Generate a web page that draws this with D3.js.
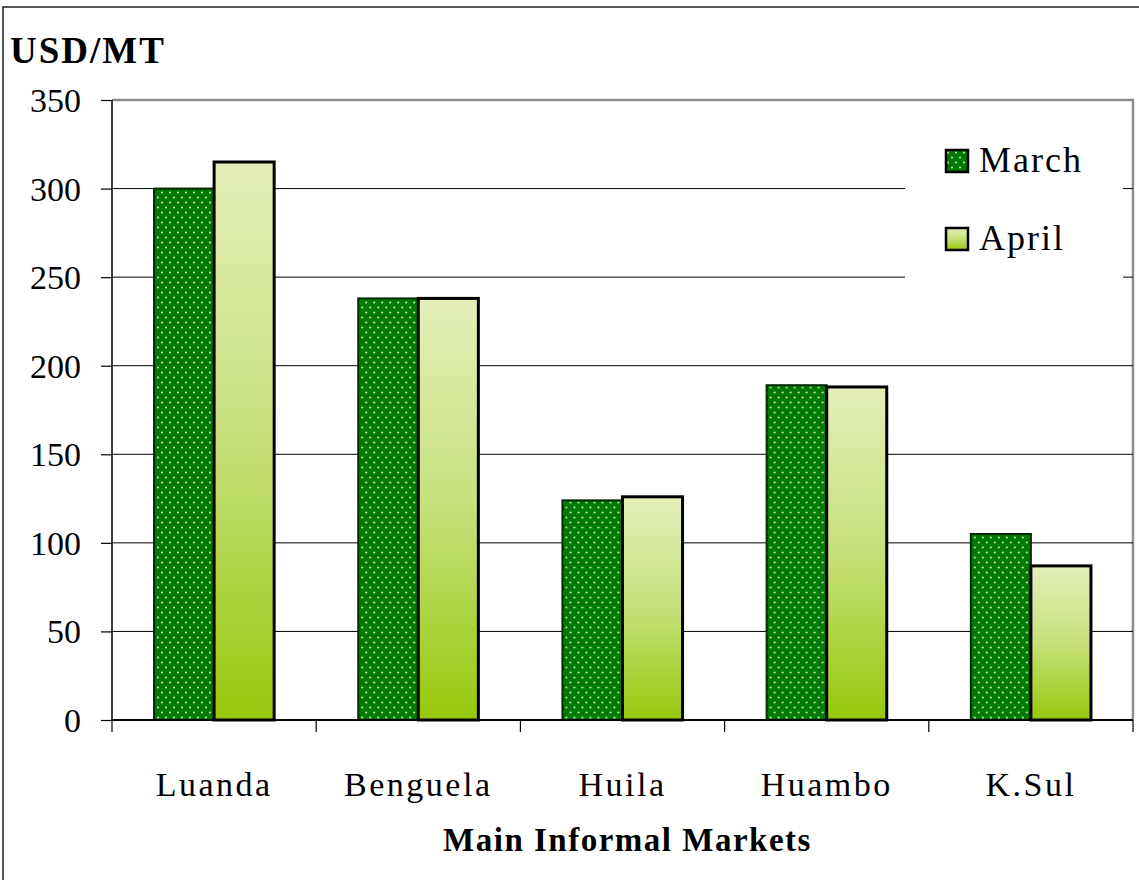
<!DOCTYPE html>
<html>
<head>
<meta charset="utf-8">
<script src="https://cdn.jsdelivr.net/npm/d3@7"></script>
<style>
  body { margin: 0; background: #fff; }
  text { font-family: "Liberation Serif", "Times New Roman", serif; fill: #000; }
</style>
</head>
<body>
<svg id="chart" width="1139" height="880"></svg>
<script>
// datos
const markets = ["Luanda", "Benguela", "Huila", "Huambo", "K.Sul"];
const seriesNames = ["March", "April"];
const march = [300, 238, 124, 189, 105];
const april = [315, 238, 126, 188, 87];
const yTicks = [0, 50, 100, 150, 200, 250, 300, 350];

const svg = d3.select("#chart");
const margin = { left: 112, top: 100, right: 1133, bottom: 720 };
const serif = "'Liberation Serif', 'Times New Roman', serif";

// marco exterior
svg.append("rect")
  .attr("x", 3).attr("y", 7)
  .attr("width", 1160).attr("height", 900)
  .attr("fill", "none").attr("stroke", "#222").attr("stroke-width", 1.5);

// patrones y degradados
const defs = svg.append("defs");
const pat = defs.append("pattern")
  .attr("id", "dots").attr("patternUnits", "userSpaceOnUse")
  .attr("width", 8).attr("height", 10);
pat.append("rect").attr("width", 8).attr("height", 10).attr("fill", "#007a00");
pat.append("circle").attr("cx", 2).attr("cy", 2.5).attr("r", 1).attr("fill", "#d8ecd8");
pat.append("circle").attr("cx", 6).attr("cy", 7.5).attr("r", 1).attr("fill", "#d8ecd8");

const grad = defs.append("linearGradient")
  .attr("id", "aprilGrad").attr("x1", 0).attr("y1", 0).attr("x2", 0).attr("y2", 1);
grad.append("stop").attr("offset", "0%").attr("stop-color", "#e4efb9");
grad.append("stop").attr("offset", "50%").attr("stop-color", "#c6e07a");
grad.append("stop").attr("offset", "100%").attr("stop-color", "#97c80c");

// escalas
const x = d3.scaleBand().domain(markets).range([margin.left, margin.right]);
const xSub = d3.scaleBand().domain(seriesNames)
  .range([0, x.bandwidth()]).paddingOuter(0.7).paddingInner(0);
const y = d3.scaleLinear().domain([0, 350]).range([margin.bottom, margin.top]);

// borde del área de trazado (gris)
svg.append("path")
  .attr("d", `M${margin.left},${margin.top}H${margin.right}V${margin.bottom}`)
  .attr("fill", "none").attr("stroke", "#8c8c8c").attr("stroke-width", 2.5);

// líneas de cuadrícula
svg.append("g")
  .selectAll("line")
  .data(yTicks.filter(d => d > 0 && d < 350))
  .enter()
  .append("line")
  .attr("x1", margin.left).attr("x2", margin.right)
  .attr("y1", d => y(d)).attr("y2", d => y(d))
  .attr("stroke", "#000").attr("stroke-width", 1);

// leyenda de fondo blanco (tapa la cuadrícula)
const legend = svg.append("g");
legend.append("rect")
  .attr("x", 905).attr("y", 118).attr("width", 218).attr("height", 165)
  .attr("fill", "#fff");

// barras
const rows = markets.map((m, i) => ({ market: m, values: [march[i], april[i]] }));
const groups = svg.append("g")
  .selectAll("g")
  .data(rows)
  .enter()
  .append("g")
  .attr("transform", d => `translate(${x(d.market)},0)`);

groups.selectAll("rect")
  .data(d => d.values.map((v, j) => ({ key: seriesNames[j], value: v })))
  .enter()
  .append("rect")
  .attr("x", d => xSub(d.key))
  .attr("y", d => y(d.value))
  .attr("width", xSub.bandwidth())
  .attr("height", d => y(0) - y(d.value))
  .attr("fill", d => d.key === "March" ? "url(#dots)" : "url(#aprilGrad)")
  .attr("stroke", d => d.key === "March" ? "#062806" : "#000")
  .attr("stroke-width", d => d.key === "March" ? 2 : 3);

// eje Y
const yAxis = svg.append("g")
  .attr("transform", `translate(${margin.left},0)`)
  .attr("font-family", serif)
  .call(d3.axisLeft(y).tickValues(yTicks).tickSize(11).tickPadding(20));
yAxis.select(".domain").attr("stroke", "#000").attr("stroke-width", 1.5)
  .attr("d", `M0,${margin.top}V${margin.bottom}`);
yAxis.selectAll(".tick line").attr("stroke", "#000").attr("stroke-width", 1.2);
yAxis.selectAll(".tick text")
  .style("font-size", "34px").style("font-family", serif)
  .attr("dy", "0.34em");

// eje X
const xAxis = svg.append("g")
  .attr("transform", `translate(0,${margin.bottom})`)
  .attr("font-family", serif)
  .call(d3.axisBottom(x).tickSize(0).tickPadding(76));
xAxis.select(".domain").attr("stroke", "#000").attr("stroke-width", 1.8)
  .attr("d", `M${margin.left},0H${margin.right}`);
xAxis.selectAll(".tick text")
  .style("font-size", "34px").style("font-family", serif)
  .style("letter-spacing", "2.5px")
  .attr("dy", "0");

// marcas entre categorías
svg.append("g")
  .selectAll("line")
  .data(markets.concat(["end"]))
  .enter()
  .append("line")
  .attr("x1", (d, i) => margin.left + i * x.step())
  .attr("x2", (d, i) => margin.left + i * x.step())
  .attr("y1", margin.bottom).attr("y2", margin.bottom + 12)
  .attr("stroke", "#000").attr("stroke-width", 1.2);

// títulos
svg.append("text")
  .attr("x", 10).attr("y", 63)
  .style("font-size", "37px").style("font-weight", "bold")
  .style("letter-spacing", "2px")
  .text("USD/MT");

svg.append("text")
  .attr("x", (margin.left + margin.right) / 2 + 5).attr("y", 851)
  .attr("text-anchor", "middle")
  .style("font-size", "33px").style("font-weight", "bold")
  .style("letter-spacing", "1.5px")
  .text("Main Informal Markets");

// leyenda
const items = legend.selectAll("g.item")
  .data(seriesNames)
  .enter()
  .append("g")
  .attr("class", "item")
  .attr("transform", (d, i) => `translate(946,${150 + i * 78})`);
items.append("rect")
  .attr("width", 22).attr("height", 22)
  .attr("fill", d => d === "March" ? "url(#dots)" : "url(#aprilGrad)")
  .attr("stroke", "#000").attr("stroke-width", 2.5);
items.append("text")
  .attr("x", 33).attr("y", 22)
  .style("font-size", "36px")
  .style("letter-spacing", "2px")
  .text(d => d);
</script>
</body>
</html>
